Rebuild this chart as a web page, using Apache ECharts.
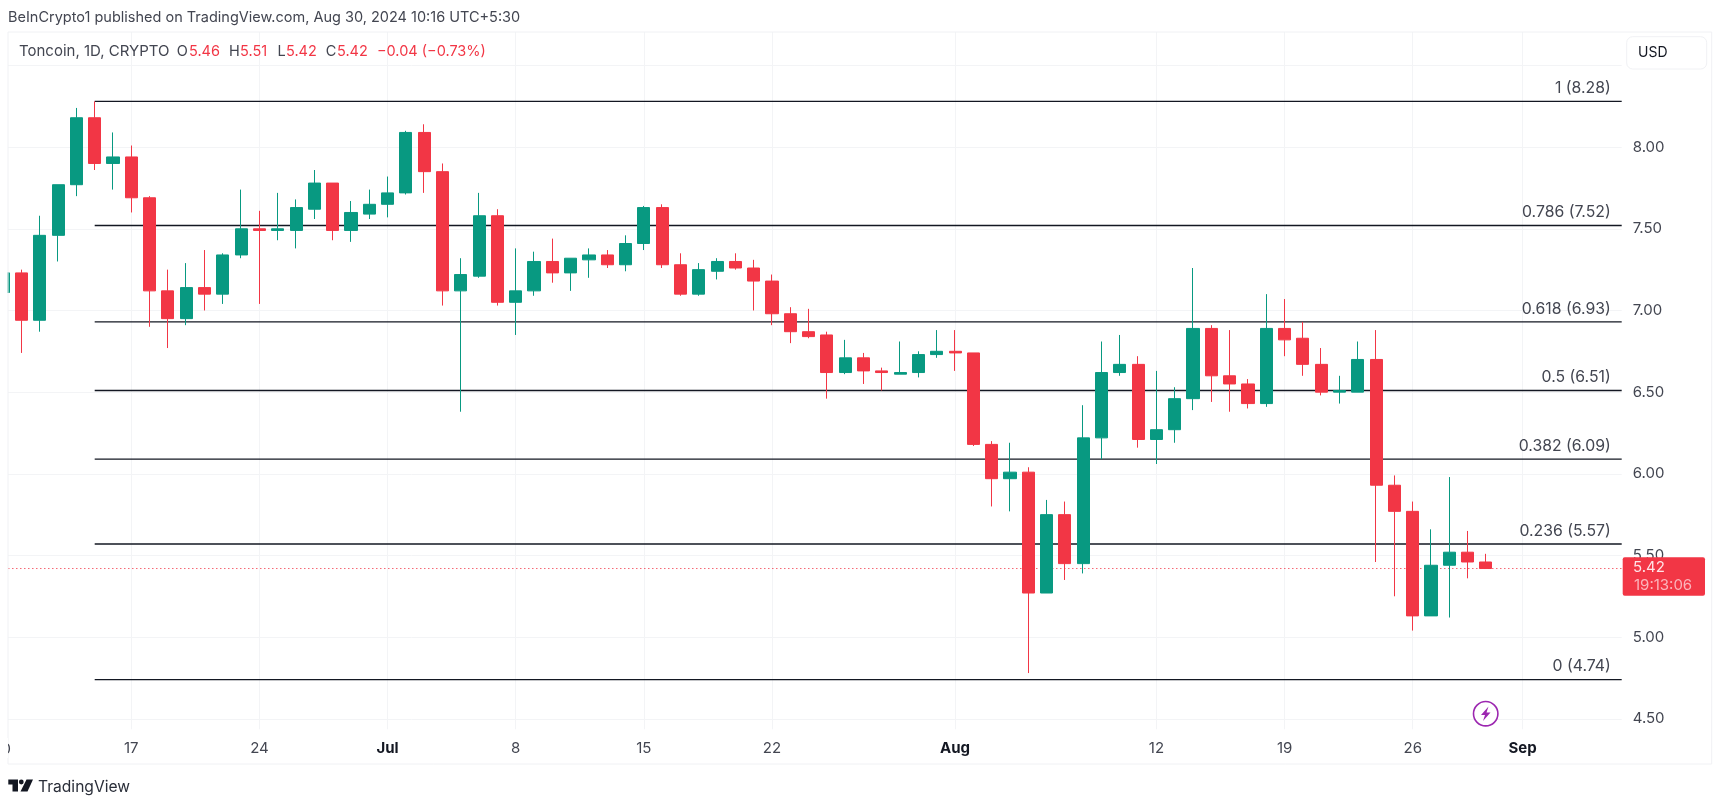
<!DOCTYPE html>
<html><head><meta charset="utf-8">
<style>html,body{margin:0;padding:0;background:#fff}#c{width:1721px;height:803px}</style>
<script src="https://cdn.jsdelivr.net/npm/echarts@6/dist/echarts.min.js"></script>
</head><body><div id="c"></div>
<script>
var dates = ['06-10','06-11','06-12','06-13','06-14','06-15','06-16','06-17','06-18','06-19','06-20','06-21','06-22','06-23','06-24','06-25','06-26','06-27','06-28','06-29','06-30',
'07-01','07-02','07-03','07-04','07-05','07-06','07-07','07-08','07-09','07-10','07-11','07-12','07-13','07-14','07-15','07-16','07-17','07-18','07-19','07-20','07-21','07-22','07-23','07-24','07-25','07-26','07-27','07-28','07-29','07-30','07-31',
'08-01','08-02','08-03','08-04','08-05','08-06','08-07','08-08','08-09','08-10','08-11','08-12','08-13','08-14','08-15','08-16','08-17','08-18','08-19','08-20','08-21','08-22','08-23','08-24','08-25','08-26','08-27','08-28','08-29','08-30'];
var opens = [7.11,7.23,6.94,7.46,7.77,8.18,7.90,7.94,7.69,7.12,6.95,7.14,7.10,7.34,7.50,7.49,7.49,7.62,7.78,7.49,7.59,
7.65,7.72,8.09,7.85,7.12,7.21,7.58,7.05,7.12,7.30,7.23,7.31,7.34,7.28,7.41,7.63,7.28,7.10,7.24,7.30,7.26,7.18,6.98,6.87,6.85,6.62,6.71,6.63,6.61,6.62,6.73,
6.75,6.74,6.18,5.97,6.01,5.27,5.75,5.45,6.22,6.62,6.67,6.21,6.27,6.46,6.89,6.60,6.55,6.43,6.89,6.83,6.67,6.50,6.50,6.70,5.93,5.77,5.13,5.44,5.52,5.46];
var highs = [7.23,7.25,7.58,7.77,8.24,8.28,8.09,8.01,7.70,7.25,7.29,7.37,7.35,7.74,7.61,7.72,7.68,7.86,7.78,7.67,7.74,
7.82,8.10,8.14,7.90,7.32,7.72,7.62,7.38,7.36,7.44,7.32,7.38,7.37,7.46,7.64,7.65,7.35,7.29,7.32,7.35,7.31,7.22,7.02,7.01,6.87,6.82,6.74,6.65,6.81,6.75,6.88,
6.88,6.74,6.20,6.19,6.04,5.84,5.83,6.42,6.81,6.85,6.72,6.63,6.53,7.26,6.91,6.88,6.58,7.10,7.07,6.93,6.77,6.60,6.81,6.88,5.99,5.83,5.66,5.98,5.65,5.51];
var lows = [7.11,6.74,6.87,7.30,7.70,7.86,7.74,7.60,6.90,6.77,6.91,7.00,7.04,7.32,7.04,7.43,7.38,7.56,7.43,7.42,7.56,
7.57,7.71,7.72,7.03,6.38,7.20,7.03,6.85,7.09,7.17,7.12,7.20,7.26,7.24,7.37,7.26,7.09,7.09,7.19,7.25,7.00,6.91,6.80,6.83,6.46,6.61,6.55,6.51,6.61,6.59,6.71,
6.63,6.17,5.80,5.77,4.78,5.27,5.35,5.39,6.09,6.60,6.16,6.06,6.19,6.39,6.44,6.38,6.40,6.41,6.72,6.60,6.48,6.43,6.50,5.46,5.25,5.04,5.13,5.12,5.36,5.42];
var closes = [7.23,6.94,7.46,7.77,8.18,7.90,7.94,7.69,7.12,6.95,7.14,7.10,7.34,7.50,7.49,7.50,7.63,7.78,7.49,7.60,7.65,
7.72,8.09,7.85,7.12,7.22,7.58,7.05,7.12,7.30,7.23,7.32,7.34,7.28,7.41,7.63,7.28,7.10,7.25,7.30,7.26,7.18,6.98,6.87,6.84,6.62,6.71,6.63,6.62,6.62,6.73,6.75,
6.74,6.18,5.97,6.01,5.27,5.75,5.45,6.22,6.62,6.67,6.21,6.27,6.46,6.89,6.60,6.55,6.43,6.89,6.82,6.67,6.50,6.51,6.70,5.93,5.77,5.13,5.44,5.52,5.46,5.42];

var fibRatios = ['1','0.786','0.618','0.5','0.382','0.236','0'];
var fibPrices = [8.28,7.52,6.93,6.51,6.09,5.57,4.74];
var fibStartDate = '06-15';

var priceTicks = [4.5,5,5.5,6,6.5,7,7.5,8,8.5];
var priceLabels = [4.5,5,5.5,6,6.5,7,7.5,8];
var timeTickDates = ['06-17','06-24','07-01','07-08','07-15','07-22','08-01','08-12','08-19','08-26','09-01'];
var timeTickLabels = ['17','24','Jul','8','15','22','Aug','12','19','26','Sep'];
var monthLabels = ['Jul','Aug','Sep'];

var UP = '#089981', DOWN = '#F23645', TEXT = '#434651', GRID = '#f3f4f6';
var dayOf = function(d){ return (Date.parse('2024-'+d+'T00:00:00Z') - Date.parse('2024-06-10T00:00:00Z'))/864e5; };
var xMin = 0.264, xMax = 88.416, yMin = 4.4356, yMax = 8.705;

var FONT = 'Inter';
var candleData = dates.map(function(d,i){ return [dayOf(d), opens[i], closes[i], lows[i], highs[i]]; });
var tickDays = timeTickDates.map(dayOf);

var series = fibPrices.map(function(p,i){
  return {type:'line', z:1, silent:true, symbol:'none', animation:false,
    data:[[dayOf(fibStartDate),p],[xMax,p]],
    lineStyle:{color:'#131722',width:1.4},
    endLabel:{show:true, formatter:fibRatios[i]+' ('+p.toFixed(2)+')', color:TEXT, fontFamily:FONT, fontSize:15.8,
      align:'right', verticalAlign:'middle', offset:[-19,-13]}};
});
var last = closes[closes.length-1];
series.push({type:'line', z:1, silent:true, symbol:'none', animation:false,
  data:[[xMin,last],[xMax,last]], lineStyle:{color:DOWN,width:1,opacity:0.75,type:[1.5,2.5]}});
series.push({type:'candlestick', z:2, animation:false, barWidth:12.6,
  encode:{x:0,y:[1,2,3,4]},
  itemStyle:{color:UP,color0:DOWN,borderColor:UP,borderColor0:DOWN,borderWidth:1},
  data:candleData});

function txt(x,y,s,o){ return {type:'text',x:x,y:y,z:10,silent:true,style:Object.assign({text:s,fontFamily:FONT,fontSize:15,fill:TEXT,textVerticalAlign:'middle',verticalAlign:'middle'},o||{})}; }
var graphic = [
  {type:'rect',z:9,silent:true,shape:{x:0,y:33,width:7.5,height:696},style:{fill:'#fff'}},
  {type:'rect',z:9,silent:true,shape:{x:8,y:32,width:1703.7,height:732},style:{fill:'none',stroke:'#f0f1f4',lineWidth:1}},
  txt(8,17.7,'BeInCrypto1 published on TradingView.com, Aug 30, 2024 10:16 UTC+5:30',{fontSize:14.5}),
  txt(19,51.7,'Toncoin, 1D, CRYPTO',{fontSize:15}),
  txt(176.8,51.7,'O',{fontSize:14.5}),txt(189,51.7,'5.46',{fontSize:14.5,fill:DOWN}),
  txt(229,51.7,'H',{fontSize:14.5}),txt(240,51.7,'5.51',{fontSize:14.5,fill:DOWN}),
  txt(277.5,51.7,'L',{fontSize:14.5}),txt(286,51.7,'5.42',{fontSize:14.5,fill:DOWN}),
  txt(325.7,51.7,'C',{fontSize:14.5}),txt(337,51.7,'5.42',{fontSize:14.5,fill:DOWN}),
  txt(377,51.7,'\u22120.04 (\u22120.73%)',{fontSize:14.5,fill:DOWN}),
  {type:'rect',z:10,silent:true,shape:{x:1626.7,y:36.7,width:80,height:32.3,r:6},style:{fill:'#fff',stroke:'#f0f1f4',lineWidth:1}},
  txt(1638,53,'USD',{fontSize:14,fill:'#131722'}),
  {type:'rect',z:10,silent:true,shape:{x:1622.7,y:557.3,width:82.3,height:38.4,r:2},style:{fill:DOWN}},
  txt(1633,567.7,'5.42',{fill:'#ffe3e6'}),
  txt(1634,585,'19:13:06',{fill:'#fbb4bb'}),
  txt(3.2,749,'10',{textAlign:'center',align:'center'}),
  {type:'rect',z:11,silent:true,shape:{x:0,y:738,width:8,height:20},style:{fill:'#fff'}},
  {type:'circle',z:10,silent:true,shape:{cx:1485.7,cy:713.7,r:12.2},style:{fill:'#fff',stroke:'#9C27B0',lineWidth:1.6}},
  {type:'polygon',z:11,silent:true,shape:{points:[[1488.5,706.5],[1481,715],[1485,715],[1483,721],[1490.5,712.5],[1486.5,712.5]]},style:{fill:'#9C27B0'}},
  {type:'polygon',z:10,silent:true,shape:{points:[[8.3,779.6],[18,779.6],[18,791.6],[12.5,791.6],[12.5,784.4],[8.3,784.4]]},style:{fill:'#131722'}},
  {type:'circle',z:10,silent:true,shape:{cx:21.3,cy:782,r:2.4},style:{fill:'#131722'}},
  {type:'polygon',z:10,silent:true,shape:{points:[[26.5,779.6],[33,779.6],[27.5,791.6],[20.5,791.6]]},style:{fill:'#131722'}},
  txt(38,787,'TradingView',{fontSize:15.6,fill:'#2a2e39'})
];

var chart = echarts.init(document.getElementById('c'),null,{renderer:'canvas'});
chart.setOption({
  backgroundColor:'#fff', animation:false, textStyle:{fontFamily:FONT},
  grid:{left:8,right:99.3,top:32,bottom:73.7,containLabel:false},
  xAxis:{type:'value',min:xMin,max:xMax,
    axisLine:{show:false},
    axisTick:{show:false,customValues:tickDays},
    splitLine:{show:true,lineStyle:{color:GRID,width:1}},
    axisLabel:{customValues:tickDays,margin:12,hideOverlap:false,color:TEXT,fontFamily:FONT,fontSize:15,
      formatter:function(v){ var l=timeTickLabels[tickDays.indexOf(v)]; return monthLabels.indexOf(l)>=0?'{b|'+l+'}':l; },
      rich:{b:{fontFamily:FONT,fontSize:15,fontWeight:'bold',color:'#131722'}}}},
  yAxis:{type:'value',position:'right',min:yMin,max:yMax,scale:true,
    axisLine:{show:false},
    axisTick:{show:false,customValues:priceTicks},
    splitLine:{show:true,lineStyle:{color:GRID,width:1}},
    axisLabel:{customValues:priceLabels,margin:11,color:TEXT,fontFamily:FONT,fontSize:15,hideOverlap:false,align:'left',
      formatter:function(v){return v.toFixed(2);}}},
  series:series,
  graphic:graphic
});
</script></body></html>
